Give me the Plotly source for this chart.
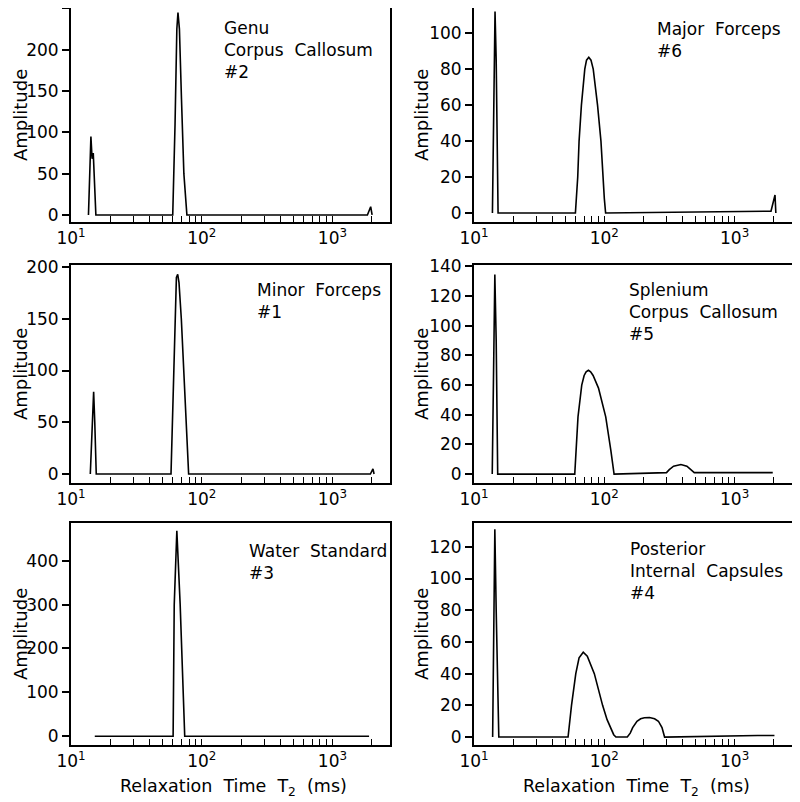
import plotly.graph_objects as go

# ---- data (T2 in ms, amplitude) ----
genu_t2 = [13.6, 14.2, 14.5, 14.8, 15.5, 60, 62.5, 64.5, 65.8, 67.5, 70, 73, 77, 1850, 1960, 2010]
genu_amp = [0, 95, 68, 75, 0, 0, 110, 225, 245, 225, 140, 50, 0, 0, 10, 0]

major_t2 = [13.85, 14.5, 14.8, 15.3, 60, 61, 62.5, 64, 66.7, 70.8, 73, 76, 79, 82.2, 88.7, 94.2, 97.5,
            100, 102.3, 1900, 2040, 2070]
major_amp = [0, 112, 85, 0, 0, 8, 20, 40, 60, 80, 85, 86.6, 85, 80, 60, 40, 20,
             8, 0, 1, 10, 0]

minor_t2 = [14.05, 14.7, 14.9, 15.2, 15.6, 58.2, 61, 62.5, 64, 65.5, 67, 69.8, 72.8, 76, 79.4,
            1950, 2040, 2080]
minor_amp = [0, 70, 79.5, 50, 0, 0, 100, 150, 190, 193, 185, 150, 100, 40, 0,
             0, 5, 0]

splen_t2 = [13.8, 14.45, 14.8, 15.2, 59.3, 60.4, 62.8, 67.1, 70, 72.5, 75.5, 78.5, 82, 90.2, 102.5,
            112.2, 118.8, 300, 315, 340, 387, 430, 465, 490, 1960]
splen_amp = [0, 134.6, 90, 0, 0, 16, 38.6, 60, 66.5, 69, 70, 69, 66.5, 58, 38.6,
             16, 0, 1, 3, 5.3, 6.5, 5.3, 3, 1, 1]

water_t2 = [15.2, 60.4, 61.6, 64.5, 68.4, 74.1, 1905]
water_amp = [0, 0, 300, 468, 300, 0, 0]

post_t2 = [13.9, 14.45, 14.8, 15.5, 52.7, 54, 56, 60.4, 64, 68.9, 74, 83.8, 90, 97, 105, 112.5, 118,
           122.7, 150, 158, 165, 178, 190, 203, 222, 243, 260, 277, 290, 1500, 2020]
post_amp = [0, 131, 80, 0, 0, 8, 20, 40, 50, 53.5, 51, 40, 30, 20, 11, 5, 1.5,
            0, 0, 2.5, 6, 10, 11.5, 12.2, 12.3, 11.5, 10, 6, 0, 1, 1]

labels = ["Genu<br>Corpus&nbsp;&nbsp;Callosum<br>#2",
          "Major&nbsp;&nbsp;Forceps<br>#6",
          "Minor&nbsp;&nbsp;Forceps<br>#1",
          "Splenium<br>Corpus&nbsp;&nbsp;Callosum<br>#5",
          "Water&nbsp;&nbsp;Standard<br>#3",
          "Posterior<br>Internal&nbsp;&nbsp;Capsules<br>#4"]

y_ranges = [[-8.5, 250.5], [-5, 114], [-8.7, 202], [-6, 141], [-20, 486], [-5, 135]]
y_ticks = [[0, 50, 100, 150, 200, 250], [0, 20, 40, 60, 80, 100], [0, 50, 100, 150, 200],
           [0, 20, 40, 60, 80, 100, 120, 140], [0, 100, 200, 300, 400], [0, 20, 40, 60, 80, 100, 120]]

x_major = [10, 100, 1000]
x_major_text = ["10<sup>1</sup>", "10<sup>2</sup>", "10<sup>3</sup>"]
x_minor = [20, 30, 40, 50, 60, 70, 80, 90, 200, 300, 400, 500, 600, 700, 800, 900, 2000]

series = [(genu_t2, genu_amp), (major_t2, major_amp), (minor_t2, minor_amp),
          (splen_t2, splen_amp), (water_t2, water_amp), (post_t2, post_amp)]

# ---- layout geometry (window pixels); the page body adds an 8px offset ----
OFF = 8
W, H = 800 - OFF, 802 - OFF
col_x = [(71, 390), (474, 792)]
row_y = [(8, 222), (265, 483), (523, 745)]
label_pos = [(222, 16), (655, 17), (255, 278), (627, 278), (247, 539), (628, 537)]
amp_x = [20, 421]


def px(x):
    return min(1.0, max(0.0, (x - OFF) / W))


def py(y):
    return min(1.0, max(0.0, 1 - (y - OFF) / H))


FONT = "DejaVu Sans"
fig = go.Figure()
layout = dict(width=W, height=H, margin=dict(l=0, r=0, t=0, b=0, autoexpand=False),
              paper_bgcolor="white", plot_bgcolor="white", showlegend=False,
              font=dict(family=FONT, size=16, color="black"))
annotations = []

for i, (t2, amp) in enumerate(series):
    r, c = divmod(i, 2)
    n = "" if i == 0 else str(i + 1)
    x0, x1 = col_x[c]
    y0, y1 = row_y[r]
    fig.add_trace(go.Scatter(x=t2, y=amp, mode="lines", line=dict(color="black", width=1.6),
                             xaxis="x" + n, yaxis="y" + n, hoverinfo="skip", cliponaxis=False))
    layout["xaxis" + n] = dict(type="log", range=[1.0, 3.44], domain=[px(x0), px(x1)],
                               anchor="y" + n, tickmode="array", tickvals=x_major,
                               ticktext=x_major_text, ticks="inside", ticklen=6, tickwidth=1.2,
                               tickcolor="black", showline=True, linewidth=2, linecolor="black",
                               mirror=True, showgrid=False, zeroline=False, automargin=False,
                               minor=dict(tickmode="array", tickvals=x_minor, ticks="inside",
                                          ticklen=6, tickwidth=1.2, tickcolor="black",
                                          showgrid=False),
                               tickfont=dict(family=FONT, size=17))
    layout["yaxis" + n] = dict(range=y_ranges[i], domain=[py(y1), py(y0)],
                               anchor="x" + n, tickmode="array", tickvals=y_ticks[i],
                               ticks="outside", ticklen=7, tickwidth=1.5, tickcolor="black",
                               showline=True, linewidth=2, linecolor="black", mirror=True,
                               showgrid=False, zeroline=False, automargin=False,
                               tickfont=dict(family=FONT, size=17))
    lx, ly = label_pos[i]
    annotations.append(dict(text=labels[i], xref="paper", yref="paper", x=px(lx), y=py(ly),
                            xanchor="left", yanchor="top", align="left", showarrow=False,
                            font=dict(family=FONT, size=17)))
    annotations.append(dict(text="Amplitude", xref="paper", yref="paper", x=px(amp_x[c]),
                            y=py((y0 + y1) / 2), xanchor="center", yanchor="middle",
                            textangle=-90, showarrow=False, font=dict(family=FONT, size=18)))

for c in range(2):
    x0, x1 = col_x[c]
    annotations.append(dict(text="Relaxation&nbsp;&nbsp;Time&nbsp;&nbsp;T<sub>2</sub>&nbsp;&nbsp;(ms)",
                            xref="paper", yref="paper", x=px((x0 + x1) / 2 + 3), y=py(787),
                            xanchor="center", yanchor="middle", showarrow=False,
                            font=dict(family=FONT, size=17.5)))

layout["annotations"] = annotations
fig.update_layout(**layout)
fig.write_html("out.html")
